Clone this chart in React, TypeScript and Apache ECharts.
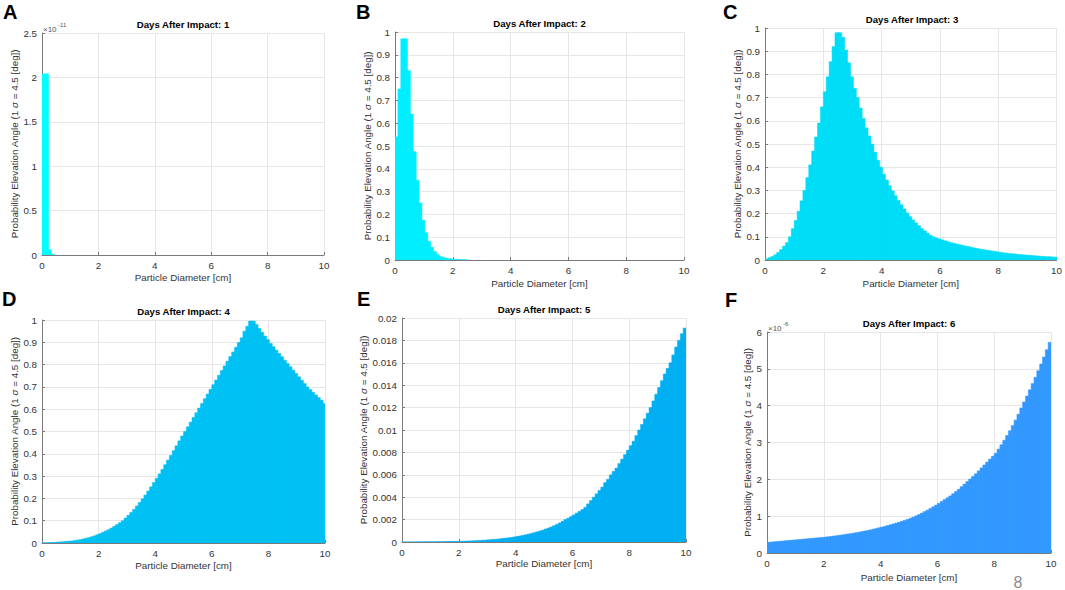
import React, { useEffect, useRef } from "react";
import * as echarts from "echarts";

const FONT = '"Liberation Sans", Arial, Helvetica, sans-serif';

// Particle diameter bin edges [cm] (0.1 cm bins from 0 to 10)
const BIN_WIDTH = 0.1;
const xTicks = [0, 2, 4, 6, 8, 10];

// Panel A (values in units of 1e-11)
const day1Values = [2.04, 2.04, 0.06, 0.01];

// Panel B
const day2Values = [
  0.54, 0.75, 0.97, 0.97, 0.83, 0.64, 0.475, 0.35, 0.25, 0.175,
  0.12, 0.082, 0.056, 0.037, 0.024, 0.016, 0.011, 0.008, 0.006, 0.004,
  0.003, 0.002, 0.0015, 0.001, 0.0007,
];

// Panel C
const day3Values = [
  0.005, 0.01, 0.015, 0.023, 0.033, 0.045, 0.06, 0.075, 0.1, 0.135,
  0.17, 0.21, 0.255, 0.3, 0.355, 0.41, 0.47, 0.53, 0.59, 0.66,
  0.725, 0.79, 0.855, 0.92, 0.98, 0.98, 0.96, 0.905, 0.85, 0.79,
  0.74, 0.7, 0.655, 0.61, 0.57, 0.535, 0.5, 0.465, 0.43, 0.4,
  0.37, 0.345, 0.32, 0.298, 0.277, 0.257, 0.238, 0.22, 0.203, 0.187,
  0.173, 0.16, 0.148, 0.136, 0.126, 0.116, 0.107, 0.1, 0.095, 0.091,
  0.087, 0.083, 0.079, 0.075, 0.072, 0.069, 0.066, 0.063, 0.06, 0.058,
  0.055, 0.052, 0.05, 0.047, 0.045, 0.043, 0.041, 0.039, 0.037, 0.035,
  0.033, 0.031, 0.03, 0.028, 0.027, 0.026, 0.024, 0.023, 0.022, 0.021,
  0.02, 0.019, 0.018, 0.017, 0.016, 0.015, 0.014, 0.014, 0.013, 0.012,
];

// Panel D
const day4Values = [
  0.001, 0.001, 0.002, 0.002, 0.003, 0.004, 0.005, 0.006, 0.007, 0.008,
  0.009, 0.011, 0.013, 0.015, 0.018, 0.021, 0.024, 0.028, 0.032, 0.037,
  0.042, 0.048, 0.054, 0.06, 0.067, 0.075, 0.083, 0.091, 0.1, 0.112,
  0.124, 0.137, 0.151, 0.166, 0.182, 0.198, 0.215, 0.233, 0.252, 0.271,
  0.29, 0.31, 0.33, 0.351, 0.372, 0.393, 0.414, 0.436, 0.458, 0.48,
  0.5, 0.521, 0.542, 0.563, 0.584, 0.605, 0.626, 0.647, 0.668, 0.689,
  0.71, 0.731, 0.752, 0.773, 0.794, 0.815, 0.836, 0.857, 0.878, 0.899,
  0.92, 0.95, 0.972, 0.995, 0.995, 0.98, 0.962, 0.945, 0.928, 0.912,
  0.895, 0.88, 0.865, 0.85, 0.835, 0.82, 0.805, 0.79, 0.775, 0.76,
  0.745, 0.73, 0.715, 0.7, 0.688, 0.676, 0.664, 0.652, 0.64, 0.625,
];

// Panel E
const day5Values = [
  0.000001, 0.000002, 0.000002, 0.000003, 0.000004, 0.000005, 0.000006, 0.000008, 0.00001, 0.000012,
  0.000014, 0.000017, 0.00002, 0.000023, 0.000027, 0.000031, 0.000036, 0.000041, 0.000047, 0.000054,
  0.000061, 0.000069, 0.000078, 0.000088, 0.000099, 0.00011, 0.00012, 0.00014, 0.00015, 0.00017,
  0.00019, 0.00021, 0.00023, 0.00025, 0.00028, 0.00031, 0.00034, 0.00037, 0.00041, 0.00045,
  0.00049, 0.00054, 0.00059, 0.00064, 0.0007, 0.00076, 0.00083, 0.0009, 0.00098, 0.00106,
  0.00115, 0.00124, 0.00134, 0.00145, 0.00157, 0.0017, 0.00185, 0.002, 0.00213, 0.00227,
  0.00242, 0.00258, 0.00274, 0.0029, 0.0031, 0.0034, 0.0037, 0.004, 0.0043, 0.0046,
  0.0049, 0.0053, 0.0056, 0.006, 0.0063, 0.0066, 0.007, 0.0074, 0.0078, 0.0082,
  0.0086, 0.009, 0.0095, 0.01, 0.0105, 0.011, 0.0115, 0.012, 0.0126, 0.0132,
  0.0138, 0.0144, 0.015, 0.0155, 0.016, 0.0167, 0.0174, 0.018, 0.0186, 0.0191,
];

// Panel F (values in units of 1e-6)
const day6Values = [
  0.29, 0.297, 0.304, 0.311, 0.318, 0.325, 0.332, 0.339, 0.346, 0.353,
  0.36, 0.367, 0.374, 0.381, 0.388, 0.395, 0.402, 0.409, 0.416, 0.423,
  0.43, 0.44, 0.45, 0.46, 0.47, 0.48, 0.491, 0.503, 0.515, 0.527,
  0.54, 0.553, 0.567, 0.582, 0.597, 0.613, 0.63, 0.648, 0.667, 0.686,
  0.705, 0.725, 0.746, 0.768, 0.79, 0.813, 0.837, 0.862, 0.888, 0.915,
  0.943, 0.975, 1.01, 1.045, 1.085, 1.125, 1.165, 1.21, 1.255, 1.3,
  1.35, 1.4, 1.45, 1.5, 1.55, 1.61, 1.67, 1.73, 1.8, 1.87,
  1.94, 2.01, 2.08, 2.15, 2.23, 2.31, 2.39, 2.47, 2.55, 2.63,
  2.71, 2.82, 2.94, 3.06, 3.19, 3.32, 3.46, 3.61, 3.77, 3.94,
  4.1, 4.26, 4.43, 4.6, 4.77, 4.95, 5.13, 5.32, 5.52, 5.72,
];

const panelLetters = ["A", "B", "C", "D", "E", "F"];
const panelTitles = [
  "Days After Impact: 1",
  "Days After Impact: 2",
  "Days After Impact: 3",
  "Days After Impact: 4",
  "Days After Impact: 5",
  "Days After Impact: 6",
];
const yMax = [2.5, 1, 1, 1, 0.02, 6];
const yInterval = [0.5, 0.1, 0.1, 0.1, 0.002, 1];
const exponents = ["-11", "", "", "", "", "-6"];
const panelValues = [day1Values, day2Values, day3Values, day4Values, day5Values, day6Values];

const X_NAME = "Particle Diameter [cm]";

// layout / style
const layouts = [
  { left: 42, top: 33, width: 282, height: 222, yGap: 15, xGap: 17, lx: 3, ly: 12 },
  { left: 395, top: 32, width: 289, height: 228, yGap: 17, xGap: 18, lx: 356, ly: 12 },
  { left: 765, top: 28, width: 294, height: 232, yGap: 20, xGap: 18, lx: 723, ly: 12 },
  { left: 42, top: 320, width: 283, height: 223, yGap: 15, xGap: 17, lx: 2, ly: 299 },
  { left: 402, top: 318, width: 284, height: 224, yGap: 21, xGap: 16, lx: 357, ly: 299 },
  { left: 767, top: 332, width: 284, height: 221, yGap: 8, xGap: 19, lx: 725, ly: 300 },
];
const colors = ["#00FFFF", "#00EEFF", "#00DDF7", "#00C1F3", "#00AFF2", "#3399FF"];

export default function App() {
  const ref = useRef<HTMLDivElement>(null);

  useEffect(() => {
    if (!ref.current) return;
    const chart = echarts.init(ref.current, undefined, { renderer: "svg" });

    const grids: any[] = [];
    const xAxes: any[] = [];
    const yAxes: any[] = [];
    const series: any[] = [];
    const titles: any[] = [];
    const graphics: any[] = [];

    layouts.forEach((L, i) => {
      grids.push({ left: L.left, top: L.top, width: L.width, height: L.height, containLabel: false });
      xAxes.push({
        type: "value",
        gridIndex: i,
        min: xTicks[0],
        max: xTicks[xTicks.length - 1],
        interval: 2,
        name: X_NAME,
        nameLocation: "middle",
        nameGap: L.xGap,
        nameTextStyle: { fontFamily: FONT, fontSize: 9.8, color: "#333" },
        axisLine: { show: true, lineStyle: { color: "#7a7a7a", width: 1 } },
        axisTick: { show: true, inside: true, length: 3, lineStyle: { color: "#7a7a7a" } },
        axisLabel: { margin: 5, fontFamily: FONT, fontSize: 9.8, color: "#333" },
        splitLine: { show: true, lineStyle: { color: "#e6e6e6", width: 1 } },
      });
      yAxes.push({
        type: "value",
        gridIndex: i,
        min: 0,
        max: yMax[i],
        interval: yInterval[i],
        name: "{a|Probability Elevation Angle (1 }{s|σ}{a| = 4.5 [deg])}",
        nameLocation: "middle",
        nameGap: L.yGap,
        nameTextStyle: {
          fontFamily: FONT,
          fontSize: 9.8,
          color: "#333",
          rich: {
            a: { fontFamily: FONT, fontSize: 9.8, color: "#333" },
            s: { fontFamily: FONT, fontSize: 9.8, color: "#333", fontStyle: "italic" },
          },
        },
        axisLine: { show: true, lineStyle: { color: "#7a7a7a", width: 1 } },
        axisTick: { show: true, inside: true, length: 3, lineStyle: { color: "#7a7a7a" } },
        axisLabel: { margin: 5, fontFamily: FONT, fontSize: 9.8, color: "#333" },
        splitLine: { show: true, lineStyle: { color: "#e6e6e6", width: 1 } },
      });

      const data = panelValues[i].map((v, k) => [k * BIN_WIDTH, (k + 1) * BIN_WIDTH, v]);
      const color = colors[i];
      series.push({
        type: "custom",
        xAxisIndex: i,
        yAxisIndex: i,
        clip: true,
        z: 5,
        encode: { x: [0, 1], y: 2 },
        data,
        renderItem: (_params: any, api: any) => {
          const x0 = api.value(0);
          const x1 = api.value(1);
          const v = api.value(2);
          const p0 = api.coord([x0, v]);
          const p1 = api.coord([x1, 0]);
          return {
            type: "rect",
            shape: { x: p0[0], y: p0[1], width: p1[0] - p0[0] + 1, height: p1[1] - p0[1] },
            style: { fill: color, stroke: color, lineWidth: 0.5 },
          };
        },
      });

      titles.push({
        text: panelTitles[i],
        left: L.left + L.width / 2,
        top: L.top - 14,
        textAlign: "center",
        padding: 0,
        textStyle: { fontFamily: FONT, fontSize: 9.6, fontWeight: "bold", color: "#000" },
      });

      graphics.push({
        type: "text",
        x: L.lx,
        y: L.ly,
        style: {
          text: panelLetters[i],
          fontFamily: FONT,
          fontSize: 20,
          fontWeight: "bold",
          fill: "#000",
          align: "left",
          verticalAlign: "middle",
        },
      });

      if (exponents[i]) {
        graphics.push({
          type: "text",
          x: L.left + 1,
          y: L.top - 4,
          style: {
            text: "×10",
            fontFamily: FONT,
            fontSize: 8,
            fill: "#555",
            align: "left",
            verticalAlign: "middle",
          },
        });
        graphics.push({
          type: "text",
          x: L.left + 16,
          y: L.top - 8,
          style: {
            text: exponents[i],
            fontFamily: FONT,
            fontSize: 6,
            fill: "#555",
            align: "left",
            verticalAlign: "middle",
          },
        });
      }
    });

    graphics.push({
      type: "text",
      x: 1018,
      y: 582,
      style: {
        text: "8",
        fontFamily: FONT,
        fontSize: 16,
        fill: "#8a8a8a",
        align: "center",
        verticalAlign: "middle",
      },
    });

    chart.setOption({
      animation: false,
      backgroundColor: "#ffffff",
      title: titles,
      grid: grids,
      xAxis: xAxes,
      yAxis: yAxes,
      series,
      graphic: graphics,
    });

    return () => chart.dispose();
  }, []);

  return (
    <div
      ref={ref}
      style={{ position: "fixed", left: 0, top: 0, width: 1065, height: 590, background: "#fff" }}
    />
  );
}
